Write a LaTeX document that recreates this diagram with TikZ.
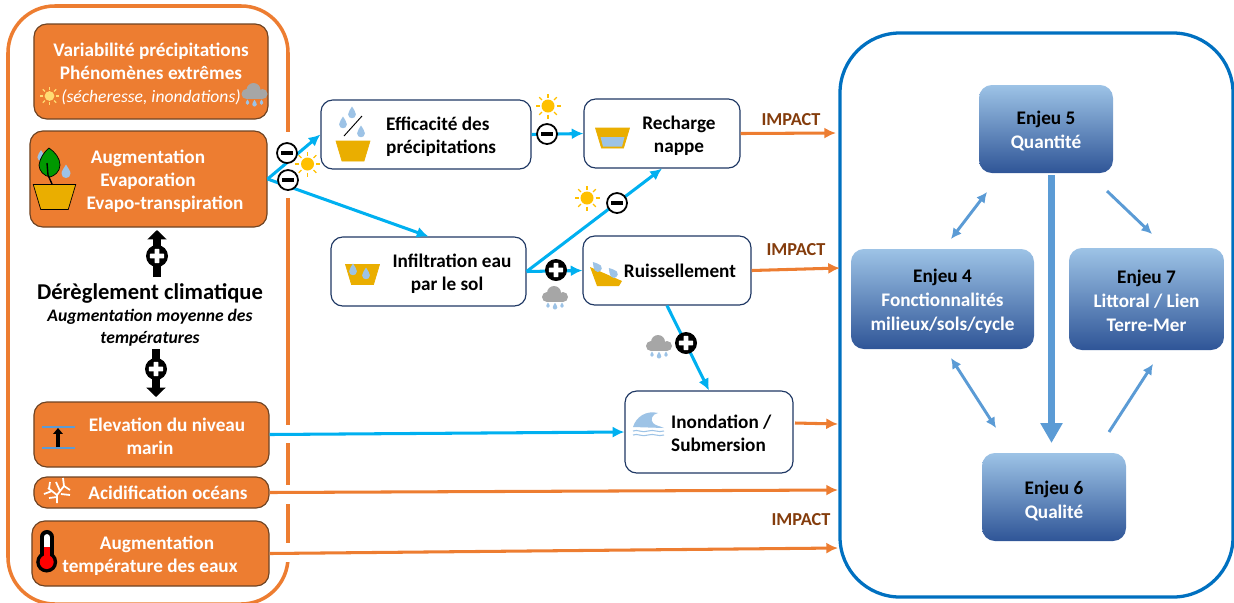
\documentclass[tikz,border=0pt]{standalone}
\usepackage{fontspec}
\setmainfont{Carlito}
\usepackage{xcolor}
\usetikzlibrary{arrows.meta}
\definecolor{orbox}{HTML}{ED7D31}
\definecolor{orline}{HTML}{6E4424}
\definecolor{navy}{HTML}{1F3864}
\definecolor{cyanarrow}{HTML}{00B0F0}
\definecolor{bluearrow}{HTML}{5B9BD5}
\definecolor{bigblue}{HTML}{0070C0}
\definecolor{deepblue}{HTML}{2F5597}
\definecolor{gold}{HTML}{EAAE00}
\definecolor{dropblue}{HTML}{9DC3E6}
\definecolor{sunny}{HTML}{FFC000}
\definecolor{impactcol}{HTML}{843C0C}
\tikzset{
  txt/.style={font=\fontsize{16.4}{19.8}\selectfont\bfseries,align=center,inner sep=0pt},
  wtxt/.style={txt,text=white},
  orangebox/.style={draw=orline,line width=1pt,fill=orbox,rounded corners=11pt,wtxt},
  whitebox/.style={draw=navy,line width=1pt,fill=white,rounded corners=10pt},
  enjeu/.style={rounded corners=11pt,top color=dropblue,middle color=bluearrow,bottom color=deepblue,txt,font=\fontsize{16.4}{20.3}\selectfont\bfseries},
  cyanline/.style={draw=cyanarrow,line width=2.6pt,-{Latex[length=10pt,width=9.5pt]}},
  orangeline/.style={draw=orbox,line width=2.6pt,-{Latex[length=10pt,width=9.5pt]}},
  enjeuline/.style={draw=bluearrow,line width=2.5pt,-{Latex[length=9pt,width=9pt]}},
  twoway/.style={enjeuline,{Latex[length=9pt,width=9pt]}-{Latex[length=9pt,width=9pt]}},
  impact/.style={txt,text=impactcol,font=\fontsize{15.6}{18}\selectfont\bfseries},
  minusbadge/.style={circle,draw=black,fill=white,line width=1.5pt,minimum size=.6cm,inner sep=0pt,
    path picture={\fill[black] ([xshift=-5pt,yshift=-2pt]path picture bounding box.center) rectangle ([xshift=5pt,yshift=2pt]path picture bounding box.center);}},
  plusbadge/.style={circle,fill=black,minimum size=.66cm,inner sep=0pt,
    path picture={\fill[white,rounded corners=.5pt] ([xshift=-6pt,yshift=-2pt]path picture bounding box.center) rectangle ([xshift=6pt,yshift=2pt]path picture bounding box.center);
    \fill[white,rounded corners=.5pt] ([xshift=-2pt,yshift=-6pt]path picture bounding box.center) rectangle ([xshift=2pt,yshift=6pt]path picture bounding box.center);}},
  fatarrow/.style={draw=black,line width=7pt,-{Triangle[length=8pt,width=16pt]}},
  pics/drop/.style={code={
    \fill[#1] (0,-5) .. controls (1,-3) and (3,-1) .. (3,1) .. controls (3,3) and (1.5,4) .. (0,4)
      .. controls (-1.5,4) and (-3,3) .. (-3,1) .. controls (-3,-1) and (-1,-3) .. (0,-5) -- cycle;}},
  pics/sun/.style={code={
    \fill[#1] (0,0) circle (6.5);
    \foreach \a in {0,45,...,315} \draw[#1,line width=1pt] (\a:8.5) -- (\a:12.5);}},
  pics/cloud/.style={code={
    \fill[#1] (-8,6) circle (5);
    \fill[#1] (-1,2) circle (7);
    \fill[#1] (8,6) circle (5);
    \fill[#1] (-8,6) rectangle (8,11);
    \pic[scale=.6] at (-7,14.5) {drop=dropblue};
    \pic[scale=.75] at (0,15.5) {drop=dropblue};
    \pic[scale=.6] at (7,14.5) {drop=dropblue};}},
  pics/pot/.style={code={
    \filldraw[fill=gold,draw=#1,line width=.6pt] (-17,-10) -- (17,-10) -- (11,10) -- (-11,10) -- cycle;}},
}
\begin{document}
\begin{tikzpicture}[x=.03cm,y=-.03cm]
\clip (0,0) rectangle (1234,602);
% left frame
\draw[orbox,line width=3pt,rounded corners=1.4cm] (288,200) -- (288,6) -- (8,6) -- (8,604) -- (288,604) -- (288,200);
\fill[white] (280,132) rectangle (296,198);
\fill[white] (280,425) rectangle (296,443);
\fill[white] (280,485) rectangle (296,504);
\fill[white] (280,543) rectangle (296,562);
% right frame
\node[draw=bigblue,line width=2.8pt,rounded corners=1.8cm,minimum width=11.79cm,minimum height=16.92cm] (frame) at (1036.5,315) {};

% climate boxes
\node[orangebox,minimum width=7.02cm,minimum height=2.85cm] (variab) at (151,71.5) {\rule{0pt}{16pt}Variabilité précipitations\\Phénomènes extrêmes\\\textcolor{white}{\fontsize{15}{19.8}\selectfont\mdseries\itshape(sécheresse, inondations)}};
\node[orangebox,minimum width=7.11cm,minimum height=2.88cm] (augm) at (148.5,179) {};
\node[wtxt] (augmtxt) at (165,181) {\hspace*{-29pt}Augmentation\\\hspace*{-29pt}Evaporation\\Evapo-transpiration};
\node[orangebox,minimum width=7.05cm,minimum height=1.95cm] (elev) at (151.5,434.5) {};
\node[wtxt] (elevtxt) at (167,436) {Elevation du niveau\\\hspace*{-29pt}marin};
\node[orangebox,minimum width=7.05cm,minimum height=.93cm] (acid) at (151.5,492.5) {};
\node[wtxt] (acidtxt) at (168,493) {Acidification océans};
\node[orangebox,minimum width=7.11cm,minimum height=1.95cm] (temp) at (150.5,553.5) {};
\node[wtxt] (temptxt) at (150,556) {\hspace*{12pt}Augmentation\\température des eaux};

% middle text
\node[txt,font=\fontsize{19.3}{22}\selectfont\bfseries] (dereg) at (150,293) {Dérèglement climatique};
\node[txt,font=\fontsize{15}{18.8}\selectfont\bfseries\itshape] (moyen) at (150,328) {Augmentation moyenne des\\températures};

% process boxes
\node[whitebox,minimum width=6.3cm,minimum height=2.07cm] (effic) at (426,134.5) {};
\node[txt,align=left,anchor=west] (effictxt) at (386,136.5) {Efficacité des\\précipitations};
\node[whitebox,minimum width=4.68cm,minimum height=2.07cm] (rech) at (662,133.5) {};
\node[txt] (rechtxt) at (679,135.5) {Recharge\\nappe};
\node[whitebox,minimum width=5.85cm,minimum height=2.07cm] (infil) at (428.5,271.5) {};
\node[txt] (infiltxt) at (452,273.5) {Infiltration eau\\\hspace*{-8.5pt}par le sol};
\node[whitebox,minimum width=5.04cm,minimum height=2.07cm] (ruis) at (667,270.5) {};
\node[txt] (ruistxt) at (680,271) {Ruissellement};
\node[whitebox,minimum width=5.04cm,minimum height=2.46cm] (inon) at (709,432) {};
\node[txt,align=left,anchor=west] (inontxt) at (671,433) {Inondation /\\Submersion};

% enjeux
\node[enjeu,minimum width=4.02cm,minimum height=2.64cm] (ejcinq) at (1046,129) {\rule{0pt}{15pt}Enjeu 5\\\textcolor{white}{Quantité}};
\node[enjeu,minimum width=5.49cm,minimum height=3cm] (ejquatre) at (942.5,299) {\rule{0pt}{15pt}Enjeu 4\\\textcolor{white}{Fonctionnalités}\\\textcolor{white}{milieux/sols/cycle}};
\node[enjeu,minimum width=4.65cm,minimum height=3.06cm] (ejsept) at (1146.5,299) {\rule{0pt}{15pt}Enjeu 7\\\textcolor{white}{Littoral / Lien}\\\textcolor{white}{Terre-Mer}};
\node[enjeu,minimum width=4.32cm,minimum height=2.64cm] (ejsix) at (1054,497) {\rule{0pt}{18pt}Enjeu 6\\\textcolor{white}{Qualité}};

% arrow ends
\coordinate (impa) at (836,133);
\coordinate (impb) at (840,268);
\coordinate (impc) at (838,424);
\coordinate (impd) at (838,490);
\coordinate (impe) at (838,548);
\coordinate (inonout) at (795,423);
\coordinate (qtop) at (1051.5,175);
\coordinate (qbot) at (1051.5,443);
\coordinate (qa) at (987,192);
\coordinate (qb) at (951,239);
\coordinate (qc) at (1107,191);
\coordinate (qd) at (1152,234);
\coordinate (qe) at (951,358);
\coordinate (qf) at (996,428);
\coordinate (qg) at (1109,432);
\coordinate (qh) at (1153,364);
\coordinate (upa) at (157,277);
\coordinate (upb) at (157,230);
\coordinate (dna) at (156,349);
\coordinate (dnb) at (156,397);

% cyan links
\draw[cyanline] (augm.east) -- (effic.west);
\draw[cyanline] (augm.east) -- (infil.north);
\draw[cyanline] (effic.east) -- (rech.west);
\draw[cyanline] (infil.east) -- (rech.south);
\draw[cyanline] (infil.east) -- (ruis.west);
\draw[cyanline] (ruis.south) -- (inon.north);
\draw[cyanline] (elev.east) -- (inon.west);
% orange links
\draw[orangeline] (rech.east) -- (impa);
\draw[orangeline] (ruis.east) -- (impb);
\draw[orangeline] (inonout) -- (impc);
\draw[orangeline] (acid.east) -- (impd);
\draw[orangeline] (temp.east) -- (impe);
\node[impact] (impacta) at (791,120) {IMPACT};
\node[impact] (impactb) at (796,250) {IMPACT};
\node[impact] (impactc) at (801,520) {IMPACT};
% enjeux links
\draw[bluearrow,line width=6.2pt,-{Triangle[length=17pt,width=18pt]}] (qtop) -- (qbot);
\draw[twoway] (qa) -- (qb);
\draw[enjeuline] (qc) -- (qd);
\draw[twoway] (qe) -- (qf);
\draw[enjeuline] (qg) -- (qh);
% fat arrows
\draw[fatarrow] (upa) -- (upb);
\draw[fatarrow] (dna) -- (dnb);

% badges
\node[minusbadge] (ma) at (287,153) {};
\node[minusbadge] (mb) at (288,180) {};
\node[minusbadge] (mc) at (547,134) {};
\node[minusbadge] (md) at (617,203) {};
\node[plusbadge] (pa) at (556,270) {};
\node[plusbadge] (pb) at (686,343) {};
\node[plusbadge] (pc) at (157,256) {};
\node[plusbadge] (pd) at (156,369) {};

% weather
\pic[scale=.75] at (49.5,96) {sun=sunny!55};
\pic at (307.5,164) {sun=sunny};
\pic at (548,106) {sun=sunny};
\pic at (587,198) {sun=sunny};
\pic at (254.5,88) {cloud=black!35};
\pic at (555,291) {cloud=black!35};
\pic at (659,340) {cloud=black!35};

% pot with leaf
\pic[scale=1.25] at (54.5,197) {pot=black};
\pic[scale=1.2] at (41,156) {drop=dropblue};
\draw[black,fill=green!60!black,line width=.6pt] (49,148) .. controls (55,152) and (60,158) .. (60,165) .. controls (60,172) and (54,176) .. (50,177) .. controls (44,176) and (39,171) .. (39,165) .. controls (40,158) and (44,152) .. (49,148) -- cycle;
\draw[black,line width=1.2pt] (47,163) -- (48,175) -- (52,184);
\pic[scale=1.5] at (66,172) {drop=dropblue};
% efficacite icon
\pic at (353,151) {pot=gold};
\pic[scale=1.3] at (352,113) {drop=dropblue};
\pic[scale=1.3] at (343,123) {drop=dropblue};
\pic[scale=1.3] at (361,132) {drop=dropblue};
\draw[black,line width=.8pt] (344,136) -- (362,116);
% infiltration icon
\pic at (362.5,274.5) {pot=gold};
\pic[scale=1.3] at (353,270) {drop=dropblue};
\pic[scale=1.3] at (366,274) {drop=dropblue};
% recharge icon
\pic at (612.5,138) {pot=gold};
\fill[dropblue] (600.5,137) -- (624.5,137) -- (622,146.5) -- (603,146.5) -- cycle;
% ruissellement icon
\fill[gold] (590,267) -- (622,281) -- (619,286) -- (597,286) -- cycle;
\pic[scale=1.3,rotate=40] at (597,267) {drop=dropblue};
\pic[scale=1.3,rotate=40] at (613,273) {drop=dropblue};
% wave icon
\fill[dropblue] (633,427) .. controls (636,417) and (646,410) .. (658,413) .. controls (652,414) and (650,420) .. (653,423) .. controls (656,426) and (660,426) .. (664,428) -- cycle;
\draw[dropblue,line width=.9pt] (633,431) .. controls (638,429) and (640,433) .. (648,431) .. controls (654,429) and (658,433) .. (664,431);
\draw[dropblue,line width=.9pt] (633,435) .. controls (638,433) and (640,437) .. (648,435) .. controls (654,433) and (658,437) .. (664,435);
% sea level icon
\draw[bluearrow,line width=2.2pt] (42,427) -- (75,427);
\draw[bluearrow,line width=2pt] (42,448) -- (75,448);
\draw[black,line width=3.2pt,-{Triangle[length=5pt,width=8pt]}] (58,447) -- (58,428);
% coral icon
\draw[white,line width=1.5pt] (57,503) -- (57,495) -- (48,488) (57,495) -- (64,486) -- (63,478) (64,486) -- (70,490) (52,491) -- (44,494) (57,497) -- (49,498) (60,491) -- (56,482) (49,489) -- (50,482) (61,494) -- (70,495);
% thermometer
\draw[black,line width=12pt,line cap=round] (46.7,537) -- (46.7,560);
\fill[black] (46.7,562) circle (10.5);
\draw[white,line width=5pt,line cap=round] (46.7,537) -- (46.7,550);
\draw[red,line width=5pt] (46.7,547) -- (46.7,560);
\fill[red] (46.7,562) circle (7);
\end{tikzpicture}
\end{document}
